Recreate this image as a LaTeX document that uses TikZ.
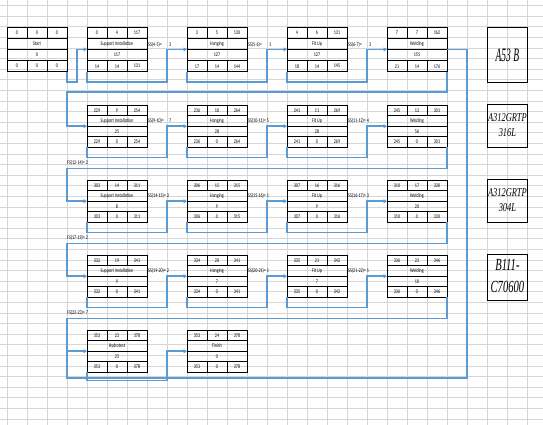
\documentclass[tikz,border=0pt]{standalone}
\usepackage{fontspec}
\setmainfont{Carlito}[FakeStretch=0.73]
\newfontfamily\matfont{Liberation Serif}
\usetikzlibrary{arrows.meta,calc}
\definecolor{connc}{RGB}{91,155,213}
\definecolor{gridc}{RGB}{214,214,214}
\tikzset{
  gridline/.style={draw=gridc, line width=0.7},
  abox/.style={draw=black, line width=0.8, anchor=north west, minimum width=60, inner sep=0, outer sep=0},
  cellline/.style={draw=black, line width=0.7},
  ctext/.style={font=\fontsize{5.6}{6}\selectfont, inner sep=0},
  lab/.style={font=\fontsize{5.6}{6}\selectfont, inner sep=0, anchor=west},
  conn/.style={draw=connc, line width=1.6, -{Triangle[length=3.5pt,width=4pt]}},
  connline/.style={draw=connc, line width=1.6},
  matbox/.style={draw=black, line width=0.8, anchor=north west, minimum width=40, inner sep=0},
}
\newcommand{\rh}{10.6}
% #1 name, #2 x, #3 y, #4 top list, #5 title, #6 duration, #7 bottom list
\newcommand{\actbox}[7]{%
  \node[abox, minimum height=4*\rh] (#1) at (#2,#3) {};
  \draw[cellline] ($(#1.north west)+(0,\rh)$) -- ++(60,0);
  \draw[cellline, line width=1.1] ($(#1.north west)+(0,2*\rh)$) -- ++(60,0);
  \draw[cellline] ($(#1.north west)+(0,3*\rh)$) -- ++(60,0);
  \foreach \k in {20,40} {
    \draw[cellline] ($(#1.north west)+(\k,0)$) -- ++(0,\rh);
    \draw[cellline] ($(#1.north west)+(\k,3*\rh)$) -- ++(0,\rh);
  }
  \foreach \v [count=\i] in {#4}
    \node[ctext] (#1-t\i) at ($(#1.north west)+(20*\i-10,0.5*\rh)$) {\v};
  \node[ctext] (#1-name) at ($(#1.north west)+(30,1.5*\rh)$) {#5};
  \node[ctext] (#1-dur) at ($(#1.north west)+(30,2.5*\rh)$) {#6};
  \foreach \v [count=\i] in {#7}
    \node[ctext] (#1-b\i) at ($(#1.north west)+(20*\i-10,3.5*\rh)$) {\v};
}
\begin{document}
\begin{tikzpicture}[x=1pt,y=-1pt]
\useasboundingbox (0,0) rectangle (543,425);
\fill[white] (0,0) rectangle (543,425);
% spreadsheet grid
\foreach \gx in {7,27,...,527} \draw[gridline] (\gx,0) -- (\gx,425);
\foreach \gy in {5.5,16.1,...,425} \draw[gridline] (0,\gy) -- (543,\gy);

% row 1
\renewcommand{\rh}{11.2}
\actbox{st}{7}{27}{0,0,0}{Start}{0}{0,0,0}
\actbox{sa}{87}{27}{0,4,117}{Support Installation}{117}{14,14,131}
\actbox{ha}{187}{27}{3,5,130}{Hanging}{127}{17,14,144}
\actbox{fa}{287}{27}{4,6,131}{Fit Up}{127}{18,14,145}
\actbox{wa}{387}{27}{7,7,162}{Welding}{155}{21,14,176}
% row 2
\renewcommand{\rh}{10.6}
\actbox{sb}{87}{105}{229,9,254}{Support Installation}{25}{229,0,254}
\actbox{hb}{187}{105}{236,10,264}{Hanging}{28}{236,0,264}
\actbox{fb}{287}{105}{241,11,269}{Fit Up}{28}{241,0,269}
\actbox{wb}{387}{105}{245,12,301}{Welding}{56}{245,0,301}
% row 3
\actbox{sc}{87}{180}{303,14,311}{Support Installation}{8}{303,0,311}
\actbox{hc}{187}{180}{306,15,315}{Hanging}{9}{306,0,315}
\actbox{fc}{287}{180}{307,16,316}{Fit Up}{9}{307,0,316}
\actbox{wc}{387}{180}{310,17,330}{Welding}{20}{310,0,330}
% row 4
\actbox{sd}{87}{255}{332,19,341}{Support Installation}{9}{332,0,341}
\actbox{hd}{187}{255}{334,20,341}{Hanging}{7}{334,0,341}
\actbox{fd}{287}{255}{335,21,342}{Fit Up}{7}{335,0,342}
\actbox{wd}{387}{255}{336,22,346}{Welding}{10}{336,0,346}
% row 5
\actbox{hy}{87}{330}{353,23,378}{Hydrotest}{25}{353,0,378}
\actbox{fi}{187}{330}{353,24,378}{Finish}{0}{353,0,378}

% material boxes
\node[matbox, minimum height=55] (m1) at (487,27) {\matfont\itshape\fontsize{19}{20}\selectfont\scalebox{0.5}[1]{A53 B}};
\node[matbox, minimum height=43] (m2) at (487,104) {\matfont\itshape\fontsize{12}{15}\selectfont\scalebox{0.7}[1]{\begin{tabular}{@{}c@{}}A312GRTP\\316L\end{tabular}}};
\node[matbox, minimum height=43] (m3) at (487,179) {\matfont\itshape\fontsize{12}{15}\selectfont\scalebox{0.7}[1]{\begin{tabular}{@{}c@{}}A312GRTP\\304L\end{tabular}}};
\node[matbox, minimum height=46] (m4) at (487,254) {\matfont\itshape\fontsize{17}{22}\selectfont\scalebox{0.62}[1]{\begin{tabular}{@{}c@{}}B111-\\C70600\end{tabular}}};

% labels
\node[lab] (l1a) at (148,44.5) {SS(4-5)=};   \node[lab] (v1a) at (169,44.5) {3};
\node[lab] (l1b) at (248,44.5) {SS(5-6)=};   \node[lab] (v1b) at (269,44.5) {1};
\node[lab] (l1c) at (348,44.5) {SS(6-7)=};   \node[lab] (v1c) at (369,44.5) {3};
\node[lab] (l2a) at (148,121) {SS(9-10)=};   \node[lab] (v2a) at (169,121) {7};
\node[lab] (l2b) at (248,121) {SS(10-11)= 5};
\node[lab] (l2c) at (348,121) {SS(11-12)= 4};
\node[lab] (l3a) at (148,196) {SS(14-15)= 3};
\node[lab] (l3b) at (248,196) {SS(15-16)= 1};
\node[lab] (l3c) at (348,196) {SS(16-17)= 3};
\node[lab] (l4a) at (148,271) {SS(19-20)= 2};
\node[lab] (l4b) at (248,271) {SS(20-21)= 1};
\node[lab] (l4c) at (348,271) {SS(21-22)= 1};
\node[lab] (f1) at (67,162.5) {FS(12-14)= 2};
\node[lab] (f2) at (67,237.5) {FS(17-19)= 2};
\node[lab] (f3) at (67,312.5) {FS(22-23)= 7};

% connectors row 1
\draw[conn] (st.south east) -- ++(0,10) -| ([xshift=-10pt]sa.west) -- (sa.west);
\draw[conn] (sa.south west) -- ++(0,10) -| ([xshift=-20pt]ha.west) -- (ha.west);
\draw[conn] (ha.south west) -- ++(0,10) -| ([xshift=-20pt]fa.west) -- (fa.west);
\draw[conn] (fa.south west) -- ++(0,10) -| ([xshift=-20pt]wa.west) -- (wa.west);
% row 2
\draw[conn] (wa.south east) -- ++(0,20) -| ([xshift=-20pt]sb.west) -- (sb.west);
\draw[conn] (sb.south west) -- ++(0,10) -| ([xshift=-20pt]hb.west) -- (hb.west);
\draw[conn] (hb.south west) -- ++(0,10) -| ([xshift=-20pt]fb.west) -- (fb.west);
\draw[conn] (fb.south west) -- ++(0,10) -| ([xshift=-20pt]wb.west) -- (wb.west);
% row 3
\draw[conn] (wb.south east) -- ++(0,21) -| ([xshift=-20pt]sc.west) -- (sc.west);
\draw[conn] (sc.south west) -- ++(0,10) -| ([xshift=-20pt]hc.west) -- (hc.west);
\draw[conn] (hc.south west) -- ++(0,10) -| ([xshift=-20pt]fc.west) -- (fc.west);
\draw[conn] (fc.south west) -- ++(0,10) -| ([xshift=-20pt]wc.west) -- (wc.west);
% row 4
\draw[conn] (wc.south east) -- ++(0,21) -| ([xshift=-20pt]sd.west) -- (sd.west);
\draw[conn] (sd.south west) -- ++(0,10) -| ([xshift=-20pt]hd.west) -- (hd.west);
\draw[conn] (hd.south west) -- ++(0,10) -| ([xshift=-20pt]fd.west) -- (fd.west);
\draw[conn] (fd.south west) -- ++(0,10) -| ([xshift=-20pt]wd.west) -- (wd.west);
% row 5
\draw[conn] (wd.south east) -- ++(0,21) -| ([xshift=-20pt]hy.west) -- (hy.west);
\draw[conn] (hy.south west) -- ++(0,8) -| ([xshift=-20pt]fi.west) -- (fi.west);
% long return line
\coordinate (lc) at (467,378);
\draw[connline] (wa.east) -| (lc) -| ([xshift=-20pt]hy.west);
\end{tikzpicture}
\end{document}
